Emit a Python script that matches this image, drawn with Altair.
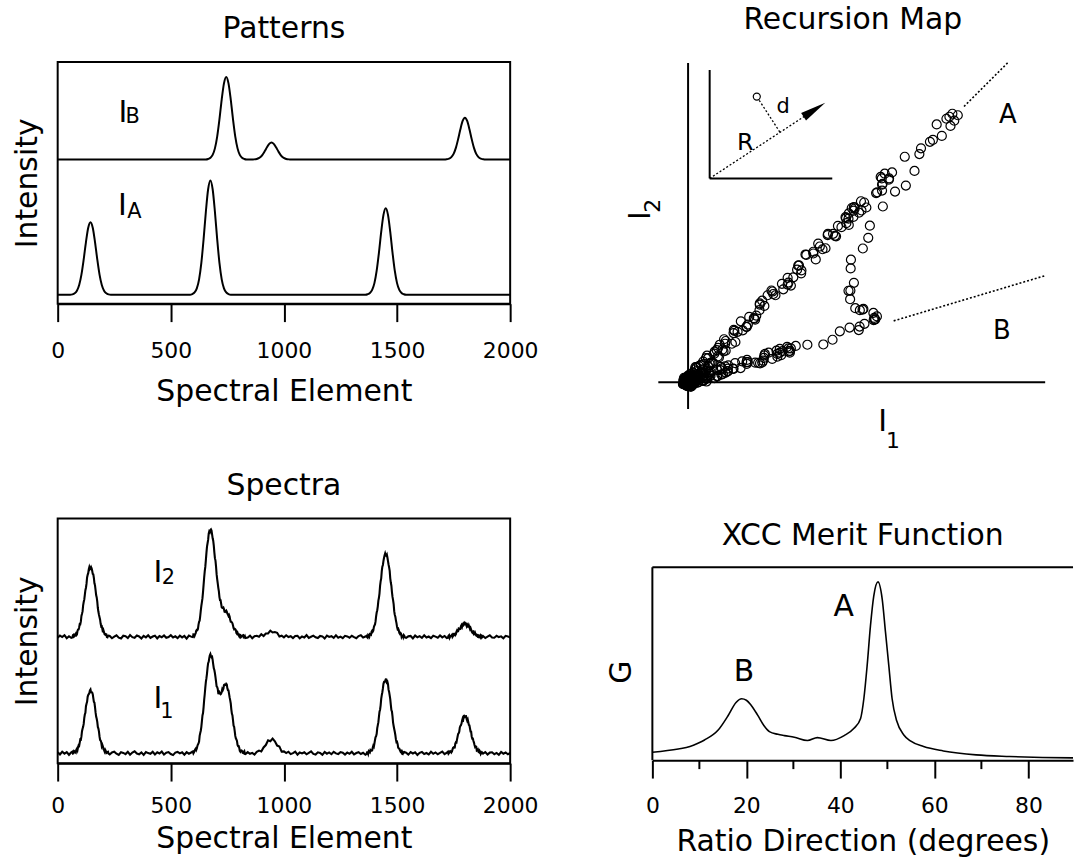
import altair as alt
import numpy as np
import pandas as pd

FONT = "DejaVu Sans"
INK = "black"


def span(a, b, step):
    return list(range(a, b + 1, step))


# ---------------------------------------------------------------- data
# spectral elements sampled for the two measured spectra (finer on peaks)
element = (span(0, 60, 10) + span(65, 225, 5) + span(230, 590, 10) + span(595, 830, 5)
           + span(840, 1360, 10) + span(1365, 1535, 5) + span(1540, 1720, 10)
           + span(1725, 1875, 5) + span(1880, 2000, 10))

spectrum_i1 = [
    0.8, -1.2, 1.5, -0.4, 1.1, -1.6, 0.9,
    1.6, -0.1, 1.8, 0.6, 4.5, 5.9, 7.4, 13.9, 16.9, 24.5, 29.4, 38.9, 47.2, 51.7, 58.5, 60.5, 64.1,
    61.2, 59.4, 51.6, 46.3, 36.8, 31.5, 24.8, 16.8, 12.7, 7.0, 6.6, 3.2, 3.5, 0.2, 1.2, -0.4,
    -1.3, 0.7, 1.6, -0.5, -1.8, 1.0, 0.3, -0.9, 1.4, -1.5, 0.6, 1.9, -0.4, -1.1, 0.8, -1.7, 1.2, 0.1,
    -0.6, 1.5, -1.2, 0.9, -0.3, 1.7, -1.4, 0.4, 1.1, -0.8, -1.9, 0.6, 1.3, -0.2, 0.9, -1.6, 1.0, -0.5, 0.7,
    1.5, -0.1, 2.3, 4.6, 4.7, 8.8, 11.7, 20.2, 26.5, 38.0, 46.3, 59.3, 71.7, 80.1, 90.5, 95.5, 99.7,
    96.6, 93.8, 85.5, 80.5, 72.0, 66.6, 60.2, 61.3, 59.3, 61.8, 63.5, 68.5, 68.6, 69.8, 65.2, 63.1,
    56.1, 50.0, 39.8, 33.0, 26.6, 17.4, 13.9, 8.3, 7.1, 2.4, 2.6, 2.1, 0.2, 2.0, -0.9,
    1.1, -0.6, 0.3, -1.3, 1.3, 2.6, 1.8, 5.8, 8.2, 12.9, 12.0, 14.6, 11.9, 7.7, 6.8, 1.6, 1.8, 0.1,
    1.5, -0.9, 0.1, 1.6, -1.4, 0.7, -0.2, 1.0, -1.1, 0.4, 1.8, -0.7, -1.3, 0.9, 0.3, -1.6, 1.2, -0.5,
    0.8, -1.0, 1.4, -0.2, -0.9, 1.1, 0.5, -1.4, 0.7, -0.6, 1.5, -1.2, 0.2, 1.0, -0.8, 0.4, -1.5,
    -0.8, 1.1, 2.1, 0.9, 2.7, 2.7, 7.5, 9.7, 16.2, 19.5, 28.2, 36.8, 43.7, 54.7, 61.3, 69.9, 71.6,
    74.3, 71.2, 69.5, 61.6, 54.3, 43.4, 37.1, 27.4, 21.5, 13.9, 11.4, 5.6, 4.6, 1.8, 2.8, -0.8, 0.6, 1.0,
    0.6, -1.4, 1.1, -0.3, 0.9, -1.7, 0.4, 1.3, -0.8, 0.2, -1.2, 1.5, -0.6, 0.8, -1.0, 0.3, 1.6, -0.9, 0.5,
    1.6, 0.2, 2.1, 0.8, 3.6, 6.0, 5.7, 10.9, 13.7, 19.4, 21.6, 27.4, 29.8, 34.9, 37.6, 36.6, 37.2,
    32.7, 31.1, 28.0, 21.8, 16.8, 14.7, 10.7, 6.3, 6.6, 3.0, 1.3, 2.5, -0.7, 1.0,
    -0.4, 1.1, -1.3, 0.6, 0.9, -1.0, 0.3, -1.6, 1.2, -0.5, 0.7, -1.1, 0.4,
]

spectrum_i2 = [
    -0.9, 1.3, -0.2, 1.7, -1.4, 0.6, -1.0,
    -0.6, 2.1, 1.0, 3.2, 2.4, 7.3, 9.7, 12.7, 21.1, 25.6, 35.0, 42.2, 49.4, 59.7, 64.0, 70.1, 69.1,
    69.0, 63.3, 59.2, 51.8, 42.0, 35.5, 25.2, 19.8, 13.1, 10.7, 4.6, 4.5, 2.2, 2.5, -0.5, 1.3,
    0.9, -1.4, 0.2, 1.5, -0.8, -1.6, 1.1, 0.6, -1.2, 1.8, -0.3, -0.9, 1.3, 0.4, -1.7, 1.0, -0.5, 1.6,
    -1.1, 0.3, 1.2, -1.5, 0.8, -0.4, 1.4, -1.0, -0.2, 1.7, -0.7, 0.5, -1.3, 1.1, -0.6, 0.9, -1.8, 1.2, 0.2,
    -0.2, 2.6, 1.0, 3.8, 7.0, 7.9, 15.1, 20.9, 31.2, 38.9, 52.5, 65.8, 77.1, 90.7, 97.5, 106.0, 107.4,
    106.8, 99.1, 91.8, 79.1, 70.7, 58.1, 49.3, 40.0, 36.8, 29.8, 29.0, 27.9, 25.0, 26.5, 23.5, 21.0,
    20.5, 15.2, 14.6, 11.4, 7.6, 7.7, 3.9, 4.2, 1.6, 2.2, -0.4, 1.0, 1.7, -0.5, -1.2,
    -0.7, 1.2, -1.4, 0.6, 1.1, 0.1, 2.6, 0.8, 3.4, 3.4, 6.2, 4.4, 4.9, 4.1, 0.3, 1.2, -0.5, 1.6,
    -0.2, 0.6, -1.3, 0.8, 1.0, -1.5, 0.3, -0.6, 1.7, -1.0, 0.1, 1.2, -0.4, -1.2, 0.9, 0.5, -1.7, 1.3,
    -0.1, 0.6, -1.1, 1.5, -0.8, 0.2, -1.3, 1.0, 0.4, -0.9, 1.1, -0.3, -1.4, 0.8, 1.6, -0.6, 0.3,
    1.1, -0.8, 1.3, 2.8, 2.1, 6.1, 6.2, 11.5, 15.5, 24.5, 30.7, 39.3, 51.2, 58.7, 70.5, 76.4, 82.0,
    82.0, 82.6, 76.1, 69.9, 58.9, 51.4, 40.1, 32.8, 22.3, 16.6, 10.0, 8.3, 4.0, 3.9, 0.2, 1.4, 1.7, -0.7,
    -1.1, 0.5, 0.9, -1.6, 1.3, -0.4, 0.7, -1.0, 1.5, -0.7, 0.3, -1.3, 1.1, 0.2, -0.8, 1.4, -0.5, 0.9, -1.2,
    -0.8, 1.7, 0.2, 1.3, -0.1, 2.7, 2.9, 2.5, 6.4, 5.7, 8.1, 8.0, 11.9, 12.5, 11.9, 14.2, 12.4,
    12.7, 9.4, 9.8, 9.0, 5.4, 5.5, 2.4, 3.9, 1.4, 2.0, -0.3, 0.6, 1.8, -0.6,
    0.8, -1.2, 0.3, 1.5, -0.6, -0.9, 1.1, -0.2, 0.5, -1.4, 1.0, 0.4, -0.8,
]

# extra samples half-way between the peak samples above
element_mid = [v + 2.5 for v in span(65, 220, 5) + span(595, 825, 5) + span(1365, 1530, 5) + span(1725, 1870, 5)]
spectrum_i1_mid = [
    -0.4, 2.2, 1.2, 3.5, 3.0, 7.9, 10.6, 13.7, 22.1, 26.5, 35.2, 40.7, 49.7, 56.7, 59.4, 63.2,
    61.3, 61.1, 55.4, 50.8, 41.0, 34.7, 26.4, 21.7, 13.3, 11.0, 8.3, 4.0, 1.7, 2.4, 0.6, 1.5,
    1.8, 0.9, 3.8, 3.2, 7.3, 9.8, 17.5, 22.6, 32.3, 40.3, 53.6, 65.9, 75.4, 86.1, 91.9, 98.4,
    97.7, 97.0, 89.4, 83.7, 76.5, 67.2, 64.6, 60.1, 60.0, 59.9, 64.5, 64.8, 69.0, 68.8, 69.2,
    63.4, 59.7, 53.4, 44.1, 38.0, 27.7, 22.1, 14.9, 12.3, 7.1, 5.5, 1.5, 2.8, 0.5, 1.3, -0.7,
    1.0, -0.6, 1.5, 3.2, 2.5, 5.4, 6.6, 13.1, 17.1, 25.2, 31.2, 41.8, 48.1, 58.4, 65.1, 71.7,
    72.7, 74.2, 71.9, 63.9, 58.2, 48.7, 41.9, 30.8, 24.3, 18.3, 11.1, 9.4, 4.8, 3.0, 2.9, -0.5, 1.0, 1.2,
    -0.5, 1.6, 1.8, 1.7, 5.5, 5.6, 9.7, 10.7, 16.6, 20.0, 25.9, 28.2, 33.0, 33.9, 37.7,
    37.1, 34.4, 33.9, 28.4, 24.8, 21.7, 14.7, 12.5, 8.3, 6.9, 2.7, 3.7, 0.9, 1.6, 0.3,
]
spectrum_i2_mid = [
    1.7, 0.4, 2.3, 1.7, 5.9, 7.5, 12.9, 15.5, 23.2, 31.7, 37.4, 46.9, 53.5, 62.4, 67.9, 68.2,
    70.3, 66.5, 62.9, 53.9, 47.0, 39.6, 29.0, 22.3, 17.3, 10.4, 7.8, 6.5, 2.5, 2.7, -0.2, 1.0,
    -0.3, 2.4, 2.5, 6.1, 6.7, 12.3, 16.2, 26.3, 35.0, 45.3, 59.7, 70.3, 84.4, 94.1, 103.7, 105.2,
    108.0, 103.1, 96.7, 85.0, 76.7, 63.0, 53.8, 45.8, 36.9, 33.4, 29.2, 29.5, 25.3, 25.9, 25.3,
    22.4, 22.0, 17.1, 15.1, 13.6, 8.7, 8.1, 6.8, 3.1, 2.6, 0.5, 1.9, 0.2, 1.5, -0.6, 0.6,
    -0.2, 1.9, 0.2, 2.5, 5.2, 5.2, 9.7, 12.4, 20.7, 26.8, 36.5, 43.8, 55.8, 66.0, 72.3, 79.5,
    83.9, 81.5, 79.8, 72.8, 66.4, 54.6, 45.0, 36.9, 25.8, 20.3, 13.8, 7.7, 6.8, 3.1, 3.3, 1.5, -0.3, 0.9,
    1.1, -1.0, 1.1, 2.0, 0.8, 2.3, 1.7, 5.0, 5.5, 8.4, 7.8, 10.8, 10.3, 13.4, 12.6,
    13.6, 10.9, 11.9, 11.4, 7.9, 7.4, 4.5, 5.6, 2.6, 2.2, 2.3, -0.1, 1.2, -0.4, 1.4,
]
assert len(element) == len(spectrum_i1) == len(spectrum_i2), (len(element), len(spectrum_i1), len(spectrum_i2))
assert len(element_mid) == len(spectrum_i1_mid) == len(spectrum_i2_mid), (
    len(element_mid), len(spectrum_i1_mid), len(spectrum_i2_mid))

# pure patterns
pattern_a_x = [0, 55] + span(65, 225, 10) + [235, 585] + span(595, 755, 10) + [765, 1360] + span(1370, 1530, 10) + [1540, 2000]
pattern_a = [0, 0,
             0.4, 1.5, 4.1, 9.9, 20.3, 35.6, 53.0, 67.4, 73, 67.4, 53.0, 35.6, 20.3, 9.9, 4.1, 1.5, 0.4,
             0, 0,
             0.7, 2.3, 6.4, 15.5, 32.0, 56.0, 83.5, 106.1, 115, 106.1, 83.5, 56.0, 32.0, 15.5, 6.4, 2.3, 0.7,
             0, 0,
             0.5, 1.7, 4.9, 11.7, 24.2, 42.4, 63.2, 80.3, 87, 80.3, 63.2, 42.4, 24.2, 11.7, 4.9, 1.7, 0.5,
             0, 0]
pattern_b_x = [0, 655] + span(665, 825, 10) + [835, 855] + span(865, 1025, 10) + [1035, 1710] + span(1720, 1880, 10) + [1890, 2000]
pattern_b = [0, 0,
             0.5, 1.7, 4.6, 11.2, 23.1, 40.4, 60.3, 76.6, 83, 76.6, 60.3, 40.4, 23.1, 11.2, 4.6, 1.7, 0.5,
             0, 0,
             0.1, 0.3, 1.0, 2.3, 4.7, 8.3, 12.3, 15.7, 17, 15.7, 12.3, 8.3, 4.7, 2.3, 1.0, 0.3, 0.1,
             0, 0,
             0.3, 0.8, 2.4, 5.7, 11.7, 20.5, 30.5, 38.8, 42, 38.8, 30.5, 20.5, 11.7, 5.7, 2.4, 0.8, 0.3,
             0, 0]
assert len(pattern_a_x) == len(pattern_a) and len(pattern_b_x) == len(pattern_b)

# XCC merit function
xcc_deg = [0, 5.5, 8, 9.7, 11.1, 14, 16.1, 17.8, 19, 20, 21, 22.4, 23.8, 24.9, 26.7, 28.1, 30.2, 33,
           35.1, 38, 40.8, 42.9, 44.3, 45, 45.7, 46.4, 47.1, 48, 48.9, 49.6, 50.3, 51, 52, 53.5, 54.9,
           57.7, 61.9, 68.9, 76, 83, 89.5]
xcc_g = [8, 11.3, 13.7, 17, 20.3, 30.3, 44.7, 58, 61.7, 60.3, 55.3, 45.3, 34.3, 28.7, 26, 24.7, 23, 19.7,
         22.7, 19.7, 24.7, 32, 42, 62, 95.3, 135, 165, 179.3, 162, 128.7, 95.3, 62, 39.3, 25.3, 19.3,
         13.7, 9.3, 5.3, 3.7, 2.7, 2.3]
xcc_minor = [10, 30, 50, 70]
xcc_frame_top = 194

# recursion-map ratio directions (degrees) and the I1 span of their dotted extension
direction_name = ["A", "B"]
direction_deg = [47.4, 18.0]
direction_from = [102, 76]
direction_to = [118.4, 132]

# display offsets used to stack the traces
pattern_offset = {"A": 9, "B": 145}
spectrum_offset = {"I1": 10, "I2": 127}

# ---------------------------------------------------------------- helpers
def x_axis(title, values, label_pad, title_y):
    return alt.Axis(title=title, values=values, format="d", grid=False,
                    domain=True, domainColor=INK, domainWidth=2,
                    ticks=True, tickSize=18, tickWidth=2, tickColor=INK,
                    labelFont=FONT, labelFontSize=22, labelColor=INK, labelPadding=label_pad,
                    labelBaseline="alphabetic", labelFlush=False, labelOverlap=False,
                    titleFont=FONT, titleFontSize=30, titleFontWeight="normal", titleColor=INK,
                    titleBaseline="alphabetic", titleY=title_y)


def y_axis(title, title_x, title_y=None):
    kw = dict(title=title, grid=False, domain=False, ticks=False, labels=False,
              titleFont=FONT, titleFontSize=30, titleFontWeight="normal", titleColor=INK,
              titleBaseline="alphabetic", titleX=title_x, titleAngle=270)
    if title_y is not None:
        kw["titleY"] = title_y
    return alt.Axis(**kw)


def title(text, offset, dx=0):
    return alt.TitleParams(text=text, font=FONT, fontSize=30, fontWeight="normal", color=INK,
                           anchor="middle", offset=offset, baseline="alphabetic", frame="group", dx=dx)


def texts(df, size, xs, ys, xa, ya, align="center", angle=0):
    return alt.Chart(df).mark_text(font=FONT, fontSize=size, color=INK, align=align,
                                   baseline="alphabetic", angle=angle).encode(
        x=alt.X("x:Q", scale=xs, axis=xa),
        y=alt.Y("y:Q", scale=ys, axis=ya),
        text="t:N")


# ---------------------------------------------------------------- Patterns
xs_el = alt.Scale(domain=[0, 2000], nice=False, zero=False)
ys_pat = alt.Scale(domain=[0, 243], nice=False, zero=False)
xa_pat = x_axis("Spectral Element", [0, 500, 1000, 1500, 2000], 36, 97)
ya_pat = y_axis("Intensity", -21)

pat_df = pd.concat([
    pd.DataFrame({"x": pattern_a_x, "v": pattern_a, "s": "A"}),
    pd.DataFrame({"x": pattern_b_x, "v": pattern_b, "s": "B"}),
])
pat_df["y"] = pat_df["v"] + pat_df["s"].map(pattern_offset)

pat_lines = alt.Chart(pat_df).mark_line(color=INK, strokeWidth=2, interpolate="monotone").encode(
    x=alt.X("x:Q", scale=xs_el, axis=xa_pat),
    y=alt.Y("y:Q", scale=ys_pat, axis=ya_pat),
    detail="s:N")
pat_main = texts(pd.DataFrame({"x": [288, 286], "y": [183, 89], "t": ["I", "I"]}), 30,
                 xs_el, ys_pat, xa_pat, ya_pat)
pat_sub = texts(pd.DataFrame({"x": [300, 307], "y": [181.5, 86], "t": ["B", "A"]}), 21,
                xs_el, ys_pat, xa_pat, ya_pat, align="left")

TL = alt.layer(pat_lines, pat_main, pat_sub).properties(width=455, height=243, title=title("Patterns", -6))

# ---------------------------------------------------------------- Spectra
ys_sp = alt.Scale(domain=[0, 246], nice=False, zero=False)
xa_sp = x_axis("Spectral Element", [0, 500, 1000, 1500, 2000], 32, 85)
ya_sp = y_axis("Intensity", -21)
spec = pd.DataFrame({"x": element + element_mid,
                     "I1": spectrum_i1 + spectrum_i1_mid,
                     "I2": spectrum_i2 + spectrum_i2_mid}).sort_values("x")
sp_df = spec.melt(id_vars="x", value_vars=["I1", "I2"], var_name="s", value_name="v")
sp_df["y"] = sp_df["v"] + sp_df["s"].map(spectrum_offset)

sp_lines = alt.Chart(sp_df).mark_line(color=INK, strokeWidth=2.1).encode(
    x=alt.X("x:Q", scale=xs_el, axis=xa_sp),
    y=alt.Y("y:Q", scale=ys_sp, axis=ya_sp),
    detail="s:N", order="x:Q")
sp_main = texts(pd.DataFrame({"x": [443, 443], "y": [182, 55], "t": ["I", "I"]}), 30,
                xs_el, ys_sp, xa_sp, ya_sp)
sp_sub = texts(pd.DataFrame({"x": [489, 483], "y": [180.5, 45.7], "t": ["2", "1"]}), 21,
               xs_el, ys_sp, xa_sp, ya_sp)

BL = alt.layer(sp_lines, sp_main, sp_sub).properties(width=455, height=246, title=title("Spectra", -6))

# ---------------------------------------------------------------- Recursion map
xs_map = alt.Scale(domain=[-13.2, 142.3], nice=False, zero=False)
ys_map = alt.Scale(domain=[-10.8, 128.8], nice=False, zero=False)


def rules(df, width=2, dash=None):
    kw = dict(color=INK, strokeWidth=width)
    if dash:
        kw["strokeDash"] = dash
    return alt.Chart(df).mark_rule(**kw).encode(
        x=alt.X("x:Q", scale=xs_map, axis=None), x2="x2:Q",
        y=alt.Y("y:Q", scale=ys_map, axis=None), y2="y2:Q")


map_axes = pd.DataFrame({"x": [-11, 0], "x2": [132, 0], "y": [0, -10.8], "y2": [0, 128.4]})
inset_axes = pd.DataFrame({"x": [7.98, 7.98], "x2": [7.98, 53.3], "y": [82, 82], "y2": [125.6, 82]})
inset_dots = pd.DataFrame({"x": [7.98, 26.3], "x2": [46.7, 34.0], "y": [82, 113.4], "y2": [109.6, 100.5]})

tan = np.tan(np.radians(direction_deg))
dir_df = pd.DataFrame({"x": direction_from, "x2": direction_to,
                       "y": np.array(direction_from) * tan, "y2": np.array(direction_to) * tan})

scatter_df = spec.rename(columns={"I1": "mx", "I2": "my"})
scatter = alt.Chart(scatter_df).mark_point(shape="circle", filled=False, size=82, color=INK,
                                           strokeWidth=1.2, opacity=1).encode(
    x=alt.X("mx:Q", scale=xs_map, axis=None), y=alt.Y("my:Q", scale=ys_map, axis=None))

inset_point = alt.Chart(pd.DataFrame({"x": [25.4], "y": [114.9]})).mark_point(
    shape="circle", filled=False, size=50, color=INK, strokeWidth=1.2, opacity=1).encode(
    x=alt.X("x:Q", scale=xs_map, axis=None), y=alt.Y("y:Q", scale=ys_map, axis=None))
arrow = alt.Chart(pd.DataFrame({"x": [46.7], "y": [109.6]})).mark_point(
    shape="M0,-1L0.35,1L-0.35,1Z", filled=True, size=676, angle=57, color=INK, opacity=1).encode(
    x=alt.X("x:Q", scale=xs_map, axis=None), y=alt.Y("y:Q", scale=ys_map, axis=None))

map_big = texts(pd.DataFrame({"x": [71.9], "y": [-19.6], "t": ["I"]}), 30, xs_map, ys_map, None, None)
map_big_rot = texts(pd.DataFrame({"x": [-14.0], "y": [67], "t": ["I"]}), 30, xs_map, ys_map, None, None, angle=270)
map_sub = texts(pd.DataFrame({"x": [75.7], "y": [-26.4], "t": ["1"]}), 22, xs_map, ys_map, None, None)
map_sub_rot = texts(pd.DataFrame({"x": [-10.3], "y": [71], "t": ["2"]}), 22, xs_map, ys_map, None, None, angle=270)
map_ab = texts(pd.DataFrame({"x": [118.2, 116.0], "y": [104.4, 17.6], "t": direction_name}), 26,
               xs_map, ys_map, None, None)
map_r = texts(pd.DataFrame({"x": [21.1], "y": [93.6], "t": ["R"]}), 24, xs_map, ys_map, None, None)
map_d = texts(pd.DataFrame({"x": [35.1], "y": [108.4], "t": ["d"]}), 21, xs_map, ys_map, None, None)

TR = alt.layer(
    rules(map_axes), rules(inset_axes), rules(inset_dots, 1.3, [2, 2]), rules(dir_df, 1.6, [2, 2]),
    scatter, inset_point, arrow, map_big, map_big_rot, map_sub, map_sub_rot, map_ab, map_r, map_d,
).properties(width=423, height=349, title=title("Recursion Map", 3, dx=-10),
             view=alt.ViewBackground(stroke="transparent"))

# ---------------------------------------------------------------- XCC merit function
# panel spans 243 px so that it shares the row with "Spectra"; its frame starts at G = 194
xs_deg = alt.Scale(domain=[0, 89.5], nice=False, zero=False)
ys_g = alt.Scale(domain=[0, 243], nice=False, zero=False)
xa_g = x_axis("Ratio Direction (degrees)", [0, 20, 40, 60, 80], 35, 91)
ya_g = y_axis("G", -22, title_y=154)

xcc_line = alt.Chart(pd.DataFrame({"x": xcc_deg, "y": xcc_g})).mark_line(
    color=INK, strokeWidth=1.6, interpolate="monotone").encode(
    x=alt.X("x:Q", scale=xs_deg, axis=xa_g),
    y=alt.Y("y:Q", scale=ys_g, axis=ya_g))
minor = alt.Chart(pd.DataFrame({"x": xcc_minor})).mark_rule(color=INK, strokeWidth=2).encode(
    x=alt.X("x:Q", scale=xs_deg, axis=xa_g), y=alt.value(243), y2=alt.value(252))
top_border = alt.Chart(pd.DataFrame({"y": [xcc_frame_top]})).mark_rule(color=INK, strokeWidth=2).encode(
    x=alt.value(0), x2=alt.value(423), y=alt.Y("y:Q", scale=ys_g, axis=ya_g))
left_border = alt.Chart(pd.DataFrame({"y": [0], "y2": [xcc_frame_top]})).mark_rule(color=INK, strokeWidth=2).encode(
    x=alt.value(0), y=alt.Y("y:Q", scale=ys_g, axis=ya_g), y2="y2:Q")
xcc_text = texts(pd.DataFrame({"x": [40.7, 19.5], "y": [145.3, 79.3], "t": ["A", "B"]}), 30,
                 xs_deg, ys_g, xa_g, ya_g)

BR = alt.layer(xcc_line, minor, top_border, left_border, xcc_text).properties(
    width=423, height=243, title=title("XCC Merit Function", -56.7),
    view=alt.ViewBackground(stroke="transparent"))

# ---------------------------------------------------------------- layout
chart = alt.concat(TL, TR, BL, BR, columns=2, bounds="flush",
                   spacing=alt.RowColnumber(column=143, row=110)).properties(
    padding={"left": 11, "top": 1, "right": 0, "bottom": 0}
).configure_view(stroke=INK, strokeWidth=2)

chart.save("out.html", embed_options={"renderer": "svg", "actions": False})
